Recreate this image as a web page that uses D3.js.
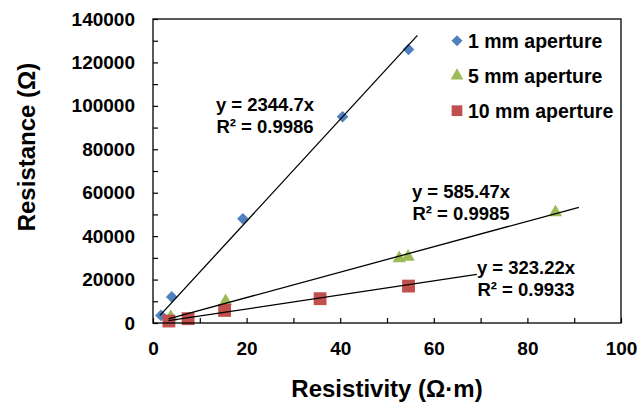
<!DOCTYPE html>
<html>
<head>
<meta charset="utf-8">
<script src="https://cdn.jsdelivr.net/npm/d3@7"></script>
<style>
  html, body { margin: 0; padding: 0; background: #fff; }
  svg text { font-family: "Liberation Sans", Arial, sans-serif; font-weight: bold; fill: #000; }
</style>
</head>
<body>
<svg id="chart" width="639" height="404"></svg>
<script>
// Measured resistance against soil resistivity for three electrode apertures
const seriesNames = ["1 mm aperture", "5 mm aperture", "10 mm aperture"];
const seriesColors = ["#4F81BD", "#9BBB59", "#C0504D"];
const seriesShapes = ["diamond", "triangle", "square"];

const resistivity1mm = [1.7, 4.0, 19.2, 40.5, 54.6];
const resistance1mm = [3500, 12000, 48000, 95000, 126000];

const resistivity5mm = [3.8, 15.5, 52.6, 54.5, 86.0];
const resistance5mm = [2800, 10000, 29800, 30500, 51000];

const resistivity10mm = [3.4, 7.5, 15.3, 35.7, 54.6];
const resistance10mm = [900, 2000, 5800, 11200, 17000];

// Linear fits through the origin (y = k·x) and their R² values
const fitSlopes = [2344.7, 585.47, 323.22];
const fitR2 = ["0.9986", "0.9985", "0.9933"];
const fitXStart = [1.5, 3.3, 3.3];
const fitXEnd = [56.5, 91.0, 69.2];

const xTicks = d3.range(0, 101, 10);
const yTicks = d3.range(0, 140001, 10000);

const series = seriesNames.map((name, i) => ({
  name,
  color: seriesColors[i],
  shape: seriesShapes[i],
  xs: [resistivity1mm, resistivity5mm, resistivity10mm][i],
  ys: [resistance1mm, resistance5mm, resistance10mm][i],
  slope: fitSlopes[i],
  r2: fitR2[i],
  x0: fitXStart[i],
  x1: fitXEnd[i]
}));

const svg = d3.select("#chart");
const plot = { left: 153, top: 19, right: 621, bottom: 323 };

const x = d3.scaleLinear().domain([0, 100]).range([plot.left, plot.right]);
const y = d3.scaleLinear().domain([0, 140000]).range([plot.bottom, plot.top]);

// Axes with inward ticks, labels on every other tick
const xAxis = d3.axisBottom(x)
  .tickValues(xTicks)
  .tickSizeInner(-5).tickSizeOuter(0).tickPadding(19)
  .tickFormat(d => d % 20 === 0 ? d3.format("d")(d) : "");
const yAxis = d3.axisLeft(y)
  .tickValues(yTicks)
  .tickSizeInner(-5).tickSizeOuter(0).tickPadding(18)
  .tickFormat(d => d % 20000 === 0 ? d3.format("d")(d) : "");

const gx = svg.append("g").attr("transform", `translate(0,${plot.bottom})`).call(xAxis);
const gy = svg.append("g").attr("transform", `translate(${plot.left},0)`).call(yAxis);
[gx, gy].forEach(g => {
  g.select(".domain").remove();
  g.selectAll(".tick line").attr("stroke", "#000").attr("stroke-width", 1.2);
  g.selectAll(".tick text").style("font-size", "19px");
});

// Markers: a square turned 45° for the diamond, equal width and height
const squareDiamond = {
  draw(context, size) {
    const r = Math.sqrt(size / 2);
    context.moveTo(0, -r);
    context.lineTo(r, 0);
    context.lineTo(0, r);
    context.lineTo(-r, 0);
    context.closePath();
  }
};
const symbolType = { diamond: squareDiamond, triangle: d3.symbolTriangle, square: d3.symbolSquare };
const symbolSize = { diamond: 68, triangle: 78, square: 165 };

function symbolPath(shape, scale) {
  return d3.symbol().type(symbolType[shape]).size(symbolSize[shape] * (scale || 1))();
}

series.forEach(s => {
  svg.append("g")
    .selectAll("path")
    .data(s.xs.map((v, j) => [v, s.ys[j]]))
    .join("path")
    .attr("d", symbolPath(s.shape))
    .attr("transform", d => `translate(${x(d[0])},${y(d[1])})`)
    .attr("fill", s.color);
});

// Fitted lines
series.forEach(s => {
  svg.append("line")
    .attr("x1", x(s.x0)).attr("y1", y(s.slope * s.x0))
    .attr("x2", x(s.x1)).attr("y2", y(s.slope * s.x1))
    .attr("stroke", "#000").attr("stroke-width", 1.3);
});

// Plot frame
svg.append("rect")
  .attr("x", plot.left).attr("y", plot.top)
  .attr("width", plot.right - plot.left).attr("height", plot.bottom - plot.top)
  .attr("fill", "none").attr("stroke", "#000").attr("stroke-width", 1.3);

// Fit equations
const eqPos = [[265, 105], [461, 192], [526, 268]];
series.forEach((s, i) => {
  const t = svg.append("text")
    .attr("text-anchor", "middle")
    .style("font-size", "18.5px");
  t.append("tspan").attr("x", eqPos[i][0]).attr("y", eqPos[i][1]).attr("dy", "0.35em")
    .text(`y = ${s.slope}x`);
  t.append("tspan").attr("x", eqPos[i][0]).attr("y", eqPos[i][1] + 22).attr("dy", "0.35em")
    .text(`R² = ${s.r2}`);
});

// Legend
const legend = svg.append("g");
series.forEach((s, i) => {
  const cy = 40.7 + i * 35;
  legend.append("path")
    .attr("d", symbolPath(s.shape, s.shape === "square" ? 0.7 : 0.9))
    .attr("transform", `translate(457,${cy})`)
    .attr("fill", s.color);
  legend.append("text")
    .attr("x", 468).attr("y", cy).attr("dy", "0.35em")
    .style("font-size", "19.5px")
    .text(s.name);
});

// Axis titles
svg.append("text")
  .attr("x", (plot.left + plot.right) / 2).attr("y", 397)
  .attr("text-anchor", "middle")
  .style("font-size", "24px")
  .text("Resistivity (Ω·m)");

svg.append("text")
  .attr("transform", "translate(35,147) rotate(-90)")
  .attr("text-anchor", "middle")
  .style("font-size", "24px")
  .text("Resistance (Ω)");
</script>
</body>
</html>
